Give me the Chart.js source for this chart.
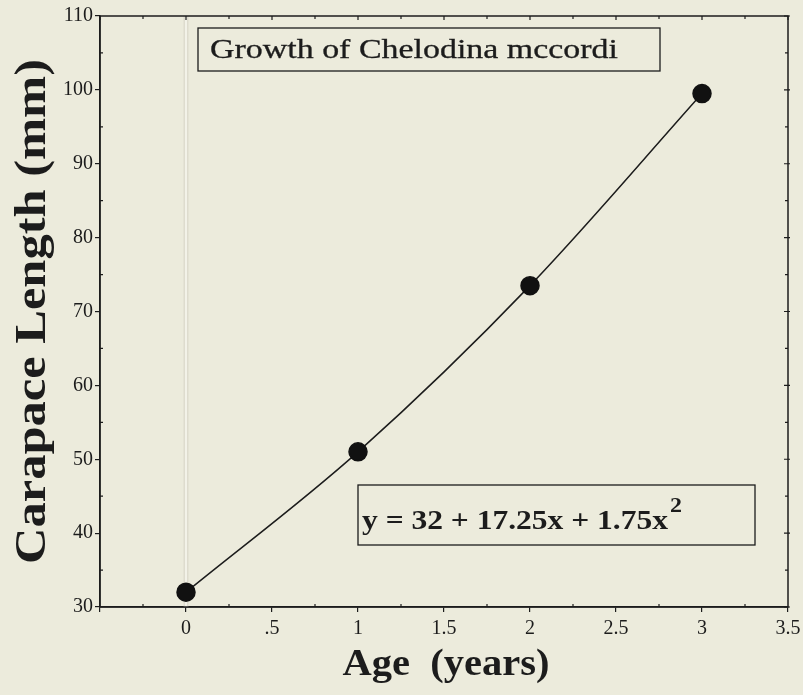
<!DOCTYPE html>
<html>
<head>
<meta charset="utf-8">
<script src="https://cdn.jsdelivr.net/npm/chart.js@4.4.1/dist/chart.umd.min.js"></script>
<style>
  html, body { margin: 0; padding: 0; background: #ecebdc; }
  canvas { display: block; }
</style>
</head>
<body>
<canvas id="c" width="803" height="695"></canvas>
<script>
// ---- data ----
const ages = [0, 1, 2, 3];
const carapaceLength = [32, 51, 73.5, 99.5];
const xTickValues = [-0.5, 0, 0.5, 1, 1.5, 2, 2.5, 3, 3.5];
const xTickLabels = ['', '0', '.5', '1', '1.5', '2', '2.5', '3', '3.5'];
const xMinorTicks = [-0.25, 0.25, 0.75, 1.25, 1.75, 2.25, 2.75, 3.25];
const yTickValues = [30, 40, 50, 60, 70, 80, 90, 100, 110];
const yMinorTicks = [35, 45, 55, 65, 75, 85, 95, 105];
const chartTitle = 'Growth of Chelodina mccordi';
const equationMain = 'y = 32 + 17.25x + 1.75x';
const equationSup = '2';
const xAxisTitle = 'Age  (years)';
const yAxisTitle = 'Carapace Length (mm)';

const INK = '#1c1c1c';
const SERIF = '"Liberation Serif", "Times New Roman", serif';

// draw text horizontally stretched to a target width
function fitText(ctx, text, x, y, font, target, align, stroke) {
  ctx.font = font;
  const w = ctx.measureText(text).width;
  const s = target / w;
  ctx.save();
  ctx.translate(x, y);
  ctx.scale(s, 1);
  ctx.textAlign = align;
  ctx.textBaseline = 'alphabetic';
  ctx.fillText(text, 0, 0);
  if (stroke) { ctx.lineWidth = stroke; ctx.strokeText(text, 0, 0); }
  ctx.restore();
  return w * s;
}

const decor = {
  id: 'decor',
  beforeDatasetsDraw(chart) {
    const ctx = chart.ctx, a = chart.chartArea;
    const xs = chart.scales.x;
    const x0 = xs.getPixelForValue(0);
    ctx.save();
    ctx.fillStyle = '#dedcce';
    ctx.fillRect(x0 - 2.5, a.top, 5, a.bottom - a.top);
    ctx.fillStyle = '#f3f2e8';
    ctx.fillRect(x0 - 1, a.top, 2, a.bottom - a.top);
    ctx.restore();
  },
  afterDraw(chart) {
    const ctx = chart.ctx, a = chart.chartArea;
    const xs = chart.scales.x, ys = chart.scales.y;
    ctx.save();
    ctx.strokeStyle = INK;
    ctx.fillStyle = INK;
    ctx.lineWidth = 1.5;
    ctx.strokeRect(a.left, a.top, a.right - a.left, a.bottom - a.top);
    ctx.lineWidth = 1.2;
    ctx.beginPath();
    xTickValues.forEach(v => {
      const p = xs.getPixelForValue(v);
      ctx.moveTo(p, a.top); ctx.lineTo(p, a.top + 4);
    });
    yTickValues.forEach(v => {
      const p = ys.getPixelForValue(v);
      ctx.moveTo(a.right + 2, p); ctx.lineTo(a.right - 4, p);
    });
    xMinorTicks.forEach(v => {
      const p = xs.getPixelForValue(v);
      ctx.moveTo(p, a.bottom); ctx.lineTo(p, a.bottom - 3);
      ctx.moveTo(p, a.top); ctx.lineTo(p, a.top + 3);
    });
    yMinorTicks.forEach(v => {
      const p = ys.getPixelForValue(v);
      ctx.moveTo(a.left, p); ctx.lineTo(a.left + 3, p);
      ctx.moveTo(a.right, p); ctx.lineTo(a.right - 3, p);
    });
    ctx.stroke();

    // title box
    const tb = { x: a.left + 98, y: a.top + 12, w: 462, h: 43 };
    ctx.lineWidth = 1.3;
    ctx.strokeRect(tb.x, tb.y, tb.w, tb.h);
    fitText(ctx, chartTitle, tb.x + 12, tb.y + 30, '27px ' + SERIF, 408, 'left', 0.3);

    // equation box
    const eb = { x: a.left + 258, y: a.top + 469, w: 397, h: 60 };
    ctx.lineWidth = 1.3;
    ctx.strokeRect(eb.x, eb.y, eb.w, eb.h);
    const wm = fitText(ctx, equationMain, eb.x + 4, eb.y + 44, 'bold 28px ' + SERIF, 306, 'left');
    fitText(ctx, equationSup, eb.x + 4 + wm + 2, eb.y + 27, 'bold 21px ' + SERIF, 12, 'left');

    // axis titles
    fitText(ctx, xAxisTitle, 446, 675, 'bold 37px ' + SERIF, 207, 'center');
    ctx.save();
    ctx.translate(45, (a.top + a.bottom) / 2);
    ctx.rotate(-Math.PI / 2);
    fitText(ctx, yAxisTitle, 0, 0, 'bold 45px ' + SERIF, 505, 'center');
    ctx.restore();
    ctx.restore();
  }
};

new Chart(document.getElementById('c'), {
  type: 'line',
  data: {
    datasets: [{
      data: ages.map((x, i) => ({ x, y: carapaceLength[i] })),
      borderColor: INK,
      borderWidth: 1.5,
      backgroundColor: '#111',
      pointBackgroundColor: '#111',
      pointBorderColor: '#111',
      pointRadius: 9,
      pointHoverRadius: 9,
      cubicInterpolationMode: 'monotone',
      fill: false
    }]
  },
  options: {
    responsive: false,
    animation: false,
    devicePixelRatio: 1,
    layout: { padding: { top: 16, right: 0, left: 0, bottom: 0 } },
    plugins: { legend: { display: false }, tooltip: { enabled: false } },
    scales: {
      x: {
        type: 'linear',
        min: -0.5, max: 3.5,
        afterBuildTicks(scale) { scale.ticks = xTickValues.map(v => ({ value: v })); },
        afterFit(scale) { scale.height = 88; scale.paddingRight = 15; },
        ticks: {
          color: INK,
          font: { family: SERIF, size: 20 },
          padding: 5,
          maxRotation: 0,
          autoSkip: false,
          callback(v) { const i = xTickValues.indexOf(v); return i >= 0 ? xTickLabels[i] : ''; }
        },
        grid: { drawOnChartArea: false, drawTicks: true, tickLength: 5, color: INK, lineWidth: 1.2 },
        border: { display: true, color: INK, width: 1.5 },
        title: { display: false, text: xAxisTitle }
      },
      y: {
        type: 'linear',
        min: 30, max: 110,
        afterBuildTicks(scale) { scale.ticks = yTickValues.map(v => ({ value: v })); },
        afterFit(scale) { scale.width = 100; },
        ticks: {
          color: INK,
          font: { family: SERIF, size: 20 },
          padding: 2,
          autoSkip: false,
          callback(v) { return String(v); }
        },
        grid: { drawOnChartArea: false, drawTicks: true, tickLength: 5, color: INK, lineWidth: 1.2 },
        border: { display: true, color: INK, width: 1.5 },
        title: { display: false, text: yAxisTitle }
      }
    }
  },
  plugins: [decor]
});
</script>
</body>
</html>
